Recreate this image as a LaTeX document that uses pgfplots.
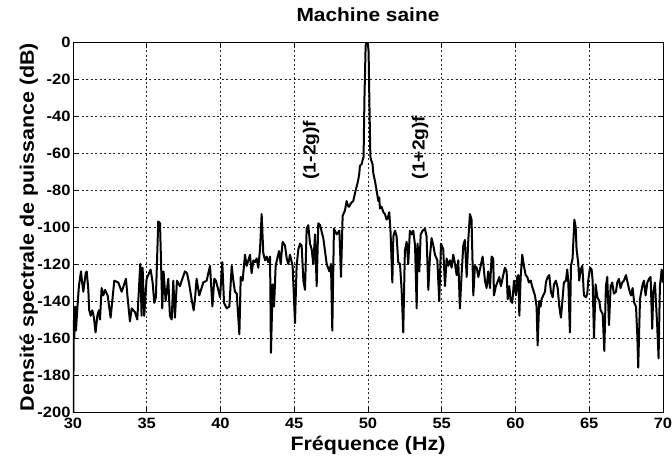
\documentclass[border=0pt]{standalone}
\usepackage{fontspec}
\setmainfont{Liberation Sans}[FakeStretch=1.1]
\usepackage{pgfplots}
\pgfplotsset{compat=1.18}
\begin{document}
\begin{tikzpicture}
\path[use as bounding box] (-73pt,-47pt) rectangle (599pt,412pt);
\begin{axis}[
  scale only axis, width=590pt, height=370pt,
  xmin=30, xmax=70, ymin=-200, ymax=0,
  xtick={30,35,...,70}, xticklabels={30,35,40,45,50,55,60,65,70},
  ytick={-200,-180,...,0},
  yticklabels={-200,-180,-160,-140,-120,-100,-80,-60,-40,-20,0},
  tick label style={font=\bfseries\fontsize{15}{15}\selectfont},
  yticklabel style={xshift=1pt},
  xticklabel style={yshift=-2.5pt},
  tick align=inside, major tick length=5pt,
  tick style={black, line width=0.6pt},
  axis line style={black, line width=0.8pt},
  grid=major,
  major grid style={black!85, line width=0.6pt, dash pattern=on 2pt off 2.5pt},
  title={Machine saine},
  title style={font=\bfseries\fontsize{19}{19}\selectfont, at={(axis description cs:0.5,1)}, anchor=base, yshift=15pt},
  xlabel={Fréquence (Hz)},
  xlabel style={font=\bfseries\fontsize{19.5}{19.5}\selectfont, at={(axis description cs:0.5,0)}, anchor=base, yshift=-38pt},
  ylabel={Densité spectrale de puissance (dB)},
  ylabel style={font=\bfseries\fontsize{19.5}{19.5}\selectfont, at={(axis description cs:-0.0661,0.5)}, anchor=base},
  clip=true,
]
\addplot[black, line width=2pt, line join=round] coordinates {
(30.00,-150) (30.02,-200) (30.05,-152) (30.09,-160) (30.14,-143) (30.20,-156)
(30.27,-147) (30.40,-132) (30.47,-128) (30.54,-124) (30.62,-130) (30.70,-135)
(30.86,-125) (30.93,-124) (31.04,-134) (31.10,-145) (31.20,-148) (31.31,-145)
(31.42,-149) (31.53,-157) (31.65,-148) (31.76,-145) (31.83,-150) (31.94,-133)
(32.05,-137) (32.17,-134) (32.35,-137) (32.55,-149) (32.80,-129) (33.07,-130)
(33.30,-135) (33.59,-128) (33.70,-138) (33.86,-151) (33.98,-144) (34.20,-146)
(34.36,-150) (34.56,-120) (34.65,-148) (34.72,-122) (34.83,-148) (34.99,-128)
(35.26,-123) (35.40,-130) (35.51,-141) (35.62,-138) (35.78,-97) (35.90,-98)
(36.05,-144) (36.14,-124) (36.28,-140) (36.46,-128) (36.57,-148) (36.69,-150)
(36.80,-129) (36.91,-149) (37.05,-129) (37.25,-132) (37.37,-129) (37.59,-124)
(37.73,-125) (37.86,-130) (38.04,-139) (38.18,-145) (38.27,-139) (38.38,-128)
(38.56,-137) (38.83,-130) (39.06,-129) (39.29,-121) (39.45,-143) (39.58,-128)
(39.69,-129) (39.85,-134) (39.97,-138) (40.12,-119) (40.24,-141) (40.42,-144)
(40.60,-143) (40.76,-121) (40.87,-129) (40.98,-135) (41.10,-136) (41.28,-158)
(41.37,-127) (41.50,-129) (41.66,-115) (41.77,-121) (41.89,-118) (42.00,-115)
(42.11,-125) (42.23,-118) (42.34,-119) (42.45,-117) (42.56,-122) (42.68,-112)
(42.79,-93) (42.90,-114) (43.02,-118) (43.13,-116) (43.24,-119) (43.36,-116)
(43.42,-168) (43.54,-131) (43.63,-143) (43.74,-121) (43.85,-117) (43.97,-113)
(44.08,-120) (44.21,-108) (44.37,-110) (44.49,-117) (44.60,-120) (44.71,-115)
(44.89,-121) (45.05,-152) (45.16,-121) (45.28,-112) (45.39,-109) (45.50,-110)
(45.62,-129) (45.73,-134) (45.84,-101) (45.95,-99) (46.07,-109) (46.18,-112)
(46.29,-120) (46.41,-104) (46.52,-132) (46.63,-98) (46.75,-99) (46.97,-106)
(47.20,-120) (47.38,-124) (47.49,-120) (47.58,-156) (47.69,-101) (47.88,-104)
(48.06,-102) (48.17,-127) (48.28,-94) (48.44,-91) (48.55,-86) (48.67,-89)
(48.73,-89) (48.85,-87) (49.00,-86) (49.11,-82) (49.20,-79) (49.27,-77)
(49.35,-74) (49.41,-71) (49.45,-67) (49.57,-66) (49.63,-64) (49.70,-62)
(49.76,-30) (49.84,-2) (49.90,0) (49.98,0) (50.04,-5) (50.10,-35)
(50.16,-62) (50.22,-64) (50.31,-66) (50.36,-71) (50.47,-75) (50.58,-80)
(50.70,-86) (50.76,-84) (50.81,-90) (50.92,-89) (51.04,-92) (51.15,-93)
(51.26,-96) (51.35,-95) (51.44,-92) (51.53,-103) (51.65,-130) (51.72,-105)
(51.83,-102) (51.94,-105) (52.05,-119) (52.17,-120) (52.28,-134) (52.39,-157)
(52.50,-113) (52.62,-108) (52.73,-120) (52.84,-102) (52.96,-104) (53.07,-102)
(53.19,-110) (53.30,-144) (53.36,-109) (53.48,-124) (53.57,-104) (53.70,-102)
(53.86,-101) (53.97,-105) (54.09,-134) (54.20,-116) (54.31,-106) (54.43,-110)
(54.54,-115) (54.70,-118) (54.83,-140) (54.95,-109) (55.10,-112) (55.22,-132)
(55.33,-117) (55.44,-121) (55.56,-118) (55.67,-122) (55.78,-115) (55.90,-120)
(56.01,-126) (56.12,-118) (56.23,-144) (56.35,-125) (56.46,-110) (56.57,-107)
(56.69,-127) (56.80,-107) (56.91,-93) (57.02,-96) (57.14,-137) (57.25,-121)
(57.37,-122) (57.48,-127) (57.77,-116) (57.93,-129) (58.04,-133) (58.15,-124)
(58.27,-133) (58.38,-116) (58.49,-117) (58.54,-137) (58.67,-132) (58.77,-130)
(58.90,-127) (59.01,-132) (59.17,-126) (59.28,-122) (59.40,-124) (59.47,-139)
(59.58,-132) (59.67,-140) (59.78,-141) (59.90,-129) (60.03,-137) (60.12,-127)
(60.19,-126) (60.26,-148) (60.35,-127) (60.46,-115) (60.57,-121) (60.69,-126)
(60.80,-127) (60.91,-130) (61.03,-129) (61.16,-133) (61.32,-137) (61.43,-143)
(61.50,-164) (61.61,-140) (61.70,-143) (61.77,-139) (61.88,-137) (62.00,-135)
(62.06,-130) (62.18,-127) (62.29,-126) (62.40,-135) (62.52,-138) (62.61,-131)
(62.74,-129) (62.86,-133) (62.97,-143) (63.08,-149) (63.19,-139) (63.28,-130)
(63.42,-129) (63.51,-123) (63.58,-130) (63.69,-157) (63.76,-121) (63.87,-117)
(63.99,-96) (64.08,-100) (64.14,-112) (64.26,-120) (64.32,-129) (64.42,-123)
(64.53,-121) (64.64,-137) (64.78,-138) (64.87,-136) (64.93,-129) (65.05,-122)
(65.16,-123) (65.23,-129) (65.32,-160) (65.43,-131) (65.55,-138) (65.68,-140)
(65.77,-145) (65.91,-147) (66.02,-167) (66.13,-132) (66.22,-127) (66.34,-153)
(66.45,-132) (66.56,-130) (66.67,-136) (66.81,-135) (66.90,-130) (67.01,-128)
(67.12,-133) (67.24,-130) (67.35,-129) (67.49,-126) (67.60,-130) (67.71,-134)
(67.83,-137) (67.94,-133) (68.05,-141) (68.17,-143) (68.26,-159) (68.32,-176)
(68.44,-139) (68.55,-134) (68.62,-131) (68.71,-129) (68.82,-137) (68.94,-130)
(69.05,-128) (69.16,-127) (69.27,-155) (69.34,-136) (69.45,-130) (69.52,-140)
(69.61,-154) (69.70,-171) (69.79,-132) (69.91,-123) (70.00,-130)
};
\node[rotate=90, font=\bfseries\fontsize{17.5}{17.5}\selectfont] at (axis cs:46.14,-58.4) {(1-2g)f};
\node[rotate=90, font=\bfseries\fontsize{17.5}{17.5}\selectfont] at (axis cs:53.53,-57) {(1+2g)f};
\end{axis}
\end{tikzpicture}
\end{document}
